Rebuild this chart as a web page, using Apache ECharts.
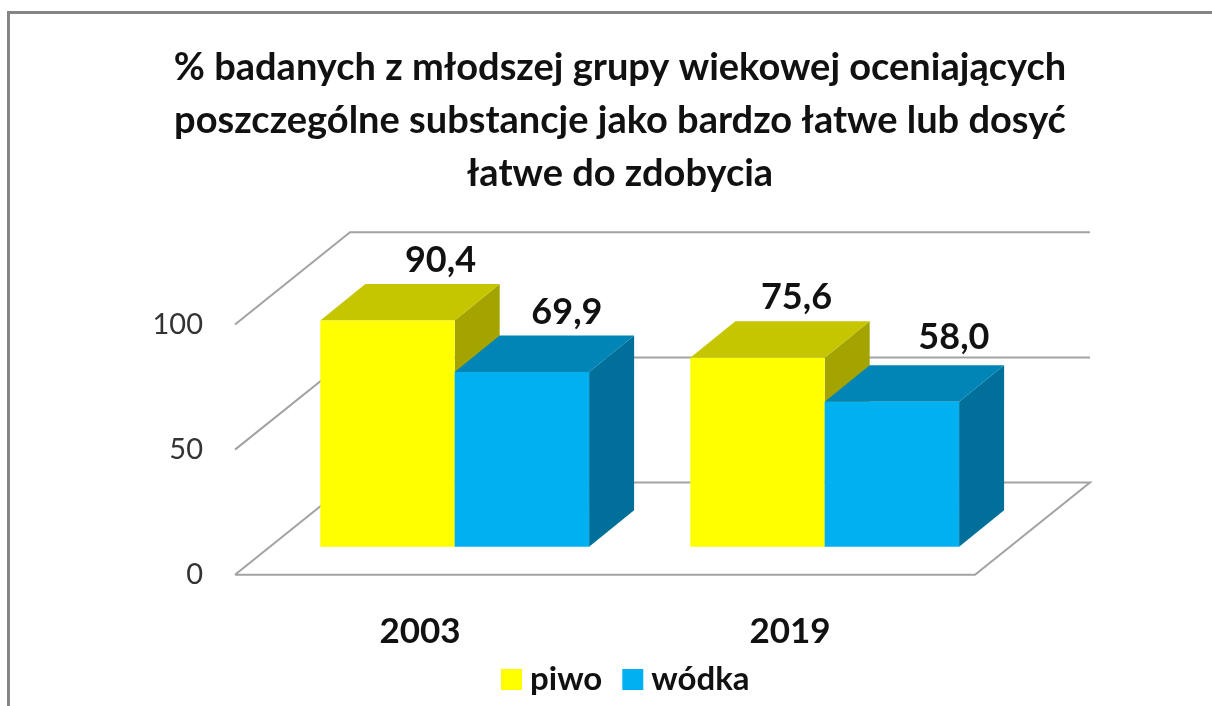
<!DOCTYPE html>
<html><head><meta charset="utf-8">
<style>html,body{margin:0;padding:0;background:#fff}#c{width:1212px;height:706px}</style>
<script src="https://cdn.jsdelivr.net/npm/echarts@6/dist/echarts.min.js"></script>
</head><body><div id="c"></div>
<script>
var titleText = '% badanych z młodszej grupy wiekowej oceniających\nposzczególne substancje jako bardzo łatwe lub dosyć\nłatwe do zdobycia';
var categories = ['2003', '2019'];
var yTicks = [0, 50, 100];
var piwo = [90.4, 75.6];
var wodka = [69.9, 58.0];
var piwoLabelOffset = [[53, -60], [39, -60]];
var wodkaLabelOffset = [[45, -60], [62, -64]];

var FONT = 'Lato';
var FLOOR_DX = 115, FLOOR_DY = -92.2;     // depth of the whole floor
var BAR_FRONT_DX = 34.7, BAR_FRONT_DY = -27.9; // bars start this far back
var BAR_DX = 45, BAR_DY = -36.5;          // depth of a bar
var BAR_W = 134.4 / 370;                  // share of a category band

function hexFaces(front, top, side, dir, offsets) {
  return function (params, api) {
    var i = api.value(0), v = api.value(1);
    var base = api.coord([i, 0]), head = api.coord([i, v]);
    var w = api.size([1, 0])[0] * BAR_W;
    var x0 = base[0] + BAR_FRONT_DX + (dir < 0 ? -w : 0), x1 = x0 + w;
    var yb = base[1] + BAR_FRONT_DY, yt = head[1] + BAR_FRONT_DY;
    var d = offsets[params.dataIndex];
    return {
      type: 'group',
      children: [
        { type: 'polygon', shape: { points: [[x1, yb], [x1 + BAR_DX, yb + BAR_DY], [x1 + BAR_DX, yt + BAR_DY], [x1, yt]] }, style: { fill: side } },
        { type: 'polygon', shape: { points: [[x0, yt], [x1, yt], [x1 + BAR_DX, yt + BAR_DY], [x0 + BAR_DX, yt + BAR_DY]] }, style: { fill: top } },
        { type: 'rect', shape: { x: x0, y: yt, width: w, height: yb - yt }, style: { fill: front } },
        { type: 'text', z2: 50, style: { x: (x0 + x1) / 2 + d[0], y: yt + d[1], text: v.toFixed(1).replace('.', ','), fill: '#111', font: 'bold 36px ' + FONT, textAlign: 'center', textVerticalAlign: 'middle' } }
      ]
    };
  };
}

function renderWalls(params, api) {
  var cs = params.coordSys;
  var v = api.value(0);
  var y = api.coord([0, v])[1];
  var xl = cs.x, xr = cs.x + cs.width;
  var pts = [[xl, y], [xl + FLOOR_DX, y + FLOOR_DY], [xr + FLOOR_DX, y + FLOOR_DY]];
  if (v === 0) pts.push([xr, y], [xl, y]);
  return { type: 'polyline', shape: { points: pts }, style: { stroke: '#a3a3a3', lineWidth: 2, fill: null } };
}

var chart = echarts.init(document.getElementById('c'));
chart.setOption({
  animation: false,
  backgroundColor: '#fff',
  title: {
    text: titleText, left: 615, top: 36, textAlign: 'center',
    textStyle: { fontFamily: FONT, fontWeight: 'bold', fontSize: 38, lineHeight: 53, color: '#111' }
  },
  graphic: [{ type: 'rect', shape: { x: 8.5, y: 12.5, width: 1300, height: 800 }, style: { fill: null, stroke: '#858585', lineWidth: 3 }, silent: true, z: -1 }],
  legend: {
    data: ['piwo', 'wódka'], left: 496, top: 658, itemWidth: 21, itemHeight: 21, itemGap: 20, icon: 'rect',
    textStyle: { fontFamily: FONT, fontWeight: 'bold', fontSize: 33, color: '#111', padding: [0, 0, 0, 3] }
  },
  grid: { left: 235, top: 324.5, width: 740, height: 250.2 },
  xAxis: {
    type: 'category', data: categories,
    axisLine: { show: false }, axisTick: { show: false }, splitLine: { show: false },
    axisLabel: { margin: 40, fontFamily: FONT, fontWeight: 'bold', fontSize: 35, color: '#111' }
  },
  yAxis: {
    type: 'value', min: 0, max: 100, interval: 50,
    axisLine: { show: false }, axisTick: { show: false }, splitLine: { show: false },
    axisLabel: { margin: 32, fontFamily: FONT, fontSize: 29, color: '#333' }
  },
  series: [
    { type: 'custom', name: 'walls', silent: true, z: 1, renderItem: renderWalls, data: yTicks.map(function (t) { return [t]; }), encode: { y: 0 } },
    { type: 'custom', name: 'piwo', z: 2, itemStyle: { color: '#FFFF00' }, renderItem: hexFaces('#FFFF00', '#C6C600', '#A4A400', -1, piwoLabelOffset), data: piwo.map(function (v, i) { return [i, v]; }), encode: { x: 0, y: 1 } },
    { type: 'custom', name: 'wódka', z: 3, itemStyle: { color: '#00B0F0' }, renderItem: hexFaces('#00B0F0', '#0085B6', '#00709B', 1, wodkaLabelOffset), data: wodka.map(function (v, i) { return [i, v]; }), encode: { x: 0, y: 1 } }
  ]
});
</script></body></html>
